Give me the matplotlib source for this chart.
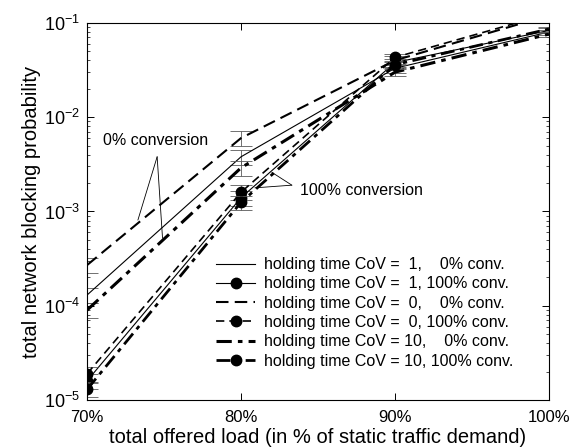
import numpy as np
import matplotlib
matplotlib.use('Agg')
import matplotlib.pyplot as plt
import matplotlib.ticker as ticker

plt.rcParams['font.family'] = ['Liberation Sans', 'DejaVu Sans']
plt.rcParams['mathtext.default'] = 'regular'

# offered load (% of static traffic demand)
load = [70, 80, 90, 100]

# blocking probability per series
cov1_0 = [1.3e-4, 3.8e-3, 3.3e-2, 8.0e-2]
cov1_100 = [1.6e-5, 1.4e-3, 3.8e-2, 8.3e-2]
cov0_0 = [2.7e-4, 6.0e-3, 4.0e-2, 1.2e-1]
cov0_100 = [1.9e-5, 1.6e-3, 4.3e-2, 1.25e-1]
cov10_0 = [9.0e-5, 2.9e-3, 3.0e-2, 7.6e-2]
cov10_100 = [1.3e-5, 1.25e-3, 3.6e-2, 8.6e-2]

# relative half-width of confidence intervals
rel_err = [0.18, 0.18, 0.10, 0.06]

labels = ['holding time CoV =  1,    0% conv.',
          'holding time CoV =  1, 100% conv.',
          'holding time CoV =  0,    0% conv.',
          'holding time CoV =  0, 100% conv.',
          'holding time CoV = 10,    0% conv.',
          'holding time CoV = 10, 100% conv.']

series = [cov1_0, cov1_100, cov0_0, cov0_100, cov10_0, cov10_100]

styles = [
    dict(ls='-', lw=0.8, marker=None),
    dict(ls='-', lw=0.8, marker='o'),
    dict(ls=(0, (6, 3)), lw=1.5, marker=None),
    dict(ls=(0, (5, 3)), lw=1.2, marker='o'),
    dict(ls=(0, (5, 2, 1.5, 2)), lw=2.2, marker=None),
    dict(ls=(0, (5, 2, 1.5, 2)), lw=2.0, marker='o'),
]

fig = plt.figure(figsize=(5.73, 4.48), dpi=100)
ax = fig.add_axes([0.152, 0.107, 0.806, 0.842])

for vals, st, lab in zip(series, styles, labels):
    v = np.array(vals)
    ax.errorbar(load, v, yerr=v * np.array(rel_err), fmt='none',
                ecolor='0.35', elinewidth=0.6, capsize=8, capthick=0.6)
    ax.plot(load, v, color='black', linestyle=st['ls'], linewidth=st['lw'],
            marker=st['marker'], markersize=7.5, markevery=[0, 1, 2],
            label=lab)

ax.set_yscale('log')
ax.set_xlim(70, 100)
ax.set_ylim(1e-5, 1e-1)

ax.set_xticks(load)
ax.set_xticklabels(['%d%%' % x for x in load])
ax.yaxis.set_major_locator(ticker.LogLocator(base=10, numticks=10))
ax.yaxis.set_major_formatter(ticker.LogFormatterMathtext())
ax.yaxis.set_minor_locator(ticker.LogLocator(base=10, subs=np.arange(2, 10), numticks=10))
ax.yaxis.set_minor_formatter(ticker.NullFormatter())
ax.tick_params(which='both', direction='in', top=True, right=True)
ax.tick_params(axis='x', labelsize=12, pad=7)
ax.tick_params(axis='y', labelsize=13, pad=5)
ax.tick_params(which='major', length=5, width=0.7)
ax.tick_params(which='minor', length=2.5, width=0.5)
for s in ax.spines.values():
    s.set_linewidth(0.8)

ax.set_xlabel('total offered load (in % of static traffic demand)', fontsize=14.5, labelpad=2)
ax.set_ylabel('total network blocking probability', fontsize=14.5, labelpad=2)

# annotations
ax.text(71.05, 5.6e-3, '0% conversion', fontsize=11.5, va='center', ha='left')
ax.annotate('', xy=(73.3, 8.1e-4), xytext=(74.55, 3.8e-3),
            arrowprops=dict(arrowstyle='-', lw=0.6, color='black',
                            shrinkA=0, shrinkB=0))
ax.annotate('', xy=(74.9, 5.2e-4), xytext=(74.55, 3.8e-3),
            arrowprops=dict(arrowstyle='-', lw=0.6, color='black',
                            shrinkA=0, shrinkB=0))
ax.text(83.8, 1.67e-3, '100% conversion', fontsize=11.5, va='center', ha='left')
ax.annotate('', xy=(82.0, 2.6e-3), xytext=(83.3, 1.9e-3),
            arrowprops=dict(arrowstyle='-', lw=0.6, color='black',
                            shrinkA=0, shrinkB=0))
ax.annotate('', xy=(80.9, 1.78e-3), xytext=(83.3, 1.9e-3),
            arrowprops=dict(arrowstyle='-', lw=0.6, color='black',
                            shrinkA=0, shrinkB=0))

ax.legend(loc='lower right', bbox_to_anchor=(0.955, 0.045), frameon=False,
          fontsize=11.5, handlelength=2.4, labelspacing=0.27, handletextpad=0.6)

fig.savefig('out.png', dpi=100)
